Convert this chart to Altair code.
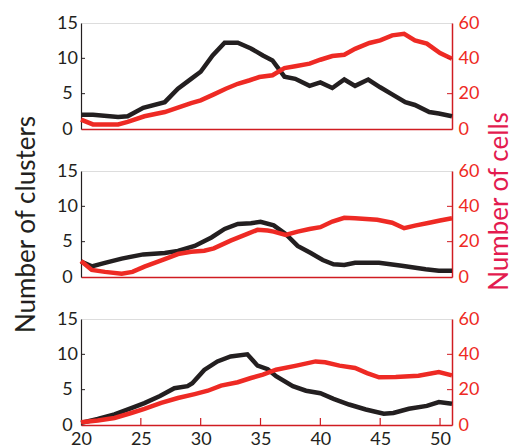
import altair as alt
import pandas as pd

# ---------------- data ----------------
ages_ticks = [25, 30, 35, 40, 45, 50]
left_ticks = [5, 10]
right_ticks = [20, 40]

p1_black_x = [20, 21, 23.1, 23.9, 25.2, 27.0, 28.1, 29.2, 30.0, 31.0, 32.0, 33.1, 34.2, 35.2, 36.0,
              37.0, 37.9, 39.1, 40.0, 41.0, 42.0, 42.9, 44.0, 45.0, 46.0, 47.1, 47.9, 49.1, 49.9, 51.0]
p1_black_y = [2.0, 2.0, 1.7, 1.8, 3.0, 3.8, 5.7, 7.1, 8.1, 10.4, 12.2, 12.2, 11.4, 10.4, 9.7,
              7.4, 7.1, 6.1, 6.6, 5.8, 7.0, 6.1, 7.0, 5.9, 4.9, 3.8, 3.4, 2.4, 2.2, 1.8]
p1_red_x = [20, 21, 23.1, 23.9, 25.3, 27.0, 28.1, 29.2, 30.0, 31.1, 32.1, 33.1, 34.1, 34.9, 36.0,
            37.0, 37.9, 39.1, 40.0, 41.0, 42.0, 42.9, 44.1, 45.0, 46.0, 47.0, 47.9, 48.9, 50.0, 51.0]
p1_red_y = [5.3, 2.6, 2.6, 4.0, 7.2, 9.6, 12.1, 14.7, 16.2, 19.6, 22.8, 25.6, 27.6, 29.4, 30.4,
            34.5, 35.5, 37.0, 39.2, 41.3, 42.0, 45.4, 48.7, 50.2, 53.0, 53.9, 50.2, 48.3, 43.0, 39.8]

p2_black_x = [20, 20.9, 22.0, 23.4, 25.2, 27.0, 28.1, 29.5, 30.9, 32.0, 33.1, 34.2, 35.0, 36.1,
              37.1, 38.1, 39.2, 40.2, 41.1, 42.0, 42.9, 44.9, 46.8, 48.8, 49.9, 51.0]
p2_black_y = [2.2, 1.5, 2.0, 2.6, 3.2, 3.4, 3.7, 4.4, 5.6, 6.8, 7.5, 7.6, 7.8, 7.3,
              6.1, 4.4, 3.4, 2.4, 1.8, 1.7, 2.0, 2.0, 1.6, 1.1, 0.9, 0.9]
p2_red_x = [20, 20.9, 22.0, 23.4, 24.3, 25.3, 27.0, 28.1, 29.2, 30.3, 31.1, 32.5, 33.9, 34.75, 35.6,
            36.1, 37.1, 38.1, 39.1, 40.0, 41.0, 42.0, 42.9, 44.75, 46.0, 47.0, 47.9, 49.1, 50.0, 51.0]
p2_red_y = [9.1, 4.0, 2.9, 1.9, 2.9, 5.9, 10.1, 13.0, 14.3, 14.9, 16.2, 20.6, 24.4, 26.7, 26.3,
            25.7, 23.8, 25.7, 27.2, 28.2, 31.4, 33.5, 33.3, 32.4, 30.7, 27.6, 29.1, 30.7, 32.0, 33.3]

p3_black_x = [20, 21.4, 22.8, 24.2, 25.3, 26.6, 27.8, 28.9, 29.3, 30.3, 31.4, 32.5, 33.9, 34.75,
              35.6, 36.3, 37.7, 38.8, 40.0, 41.1, 42.4, 43.8, 45.3, 46.1, 47.4, 48.9, 49.9, 51.0]
p3_black_y = [0.3, 0.85, 1.5, 2.4, 3.1, 4.1, 5.2, 5.5, 5.9, 7.8, 9.0, 9.7, 10.0, 8.4,
              7.9, 6.9, 5.5, 4.85, 4.5, 3.7, 2.9, 2.2, 1.6, 1.7, 2.3, 2.7, 3.25, 3.0]
p3_red_x = [20, 21.4, 22.8, 24.2, 25.3, 26.7, 28.1, 29.5, 30.6, 31.7, 33.1, 34.2, 35.2, 36.3, 38.0,
            39.6, 40.4, 41.6, 42.9, 43.9, 44.9, 46.3, 48.2, 49.9, 51.0]
p3_red_y = [1.5, 2.6, 4.0, 6.8, 9.1, 12.5, 15.3, 17.5, 19.4, 22.3, 24.2, 26.6, 28.5, 31.3, 33.6,
            36.0, 35.5, 33.6, 32.3, 29.4, 27.0, 27.2, 27.9, 30.0, 28.1]

# ---------------- styling ----------------
BLACK = "#231f20"
RED = "#ee2a24"
AXRED = "#d01c22"
TITLERED = "#e31b4f"
FONT = "Lato"
W, H = 371, 106

xscale = alt.Scale(domain=[20, 51], nice=False, zero=False)
lscale = alt.Scale(domain=[0, 15], nice=False)
rscale = alt.Scale(domain=[0, 60], nice=False)


def panel(bx, by, rx, ry, show_x, show_titles):
    xaxis = alt.Axis(values=[20, 25, 30, 35, 40, 45, 50], labels=show_x, ticks=False,
                     domainColor=AXRED, domainWidth=1.5, labelColor=BLACK, labelFontSize=18,
                     labelFont=FONT, labelPadding=5, labelFlush=False, grid=False, title=None)
    laxis = alt.Axis(values=[0, 5, 10, 15], ticks=False, domainColor=BLACK, domainWidth=1.2,
                     labelColor=BLACK, labelFontSize=18, labelFont=FONT, labelPadding=14,
                     labelAlign="center", labelFlush=False, grid=False, orient="left",
                     title="Number of clusters" if show_titles else None,
                     titleFont=FONT, titleFontSize=26, titleFontWeight="normal",
                     titleColor=BLACK, titlePadding=17)
    raxis = alt.Axis(values=[0, 20, 40, 60], ticks=False, domainColor=AXRED, domainWidth=1.5,
                     labelColor=RED, labelFontSize=18, labelFont=FONT, labelPadding=6,
                     labelFlush=False, grid=False, orient="right",
                     title="Number of cells" if show_titles else None,
                     titleFont=FONT, titleFontSize=26, titleFontWeight="normal",
                     titleColor=TITLERED, titlePadding=8, titleAngle=270, titleBaseline="top",
                     titleAlign="center", titleY=30)

    db = pd.DataFrame({"age": bx, "clusters": by})
    dr = pd.DataFrame({"age": rx, "cells": ry})
    dlt = pd.DataFrame({"clusters": left_ticks})
    drt = pd.DataFrame({"cells": right_ticks})

    bline = alt.Chart(db).mark_line(color=BLACK, strokeWidth=4.5).encode(
        x=alt.X("age:Q", scale=xscale, axis=xaxis),
        y=alt.Y("clusters:Q", scale=lscale, axis=laxis))
    lt = alt.Chart(dlt).mark_rule(color=BLACK, strokeWidth=1).encode(
        y=alt.Y("clusters:Q", scale=lscale, axis=laxis),
        x=alt.value(0), x2=alt.value(4))
    rline = alt.Chart(dr).mark_line(color=RED, strokeWidth=4.5).encode(
        x=alt.X("age:Q", scale=xscale, axis=xaxis),
        y=alt.Y("cells:Q", scale=rscale, axis=raxis))
    rt = alt.Chart(drt).mark_rule(color=AXRED, strokeWidth=1).encode(
        y=alt.Y("cells:Q", scale=rscale, axis=raxis),
        x=alt.value(W - 5), x2=alt.value(W))

    left = alt.layer(bline, lt)
    right = alt.layer(rline, rt)
    layers = [left, right]
    if show_x:
        dxt = pd.DataFrame({"age": ages_ticks})
        xt = alt.Chart(dxt).mark_rule(color=AXRED, strokeWidth=1.2).encode(
            x=alt.X("age:Q", scale=xscale, axis=xaxis),
            y=alt.value(H - 7), y2=alt.value(H))
        layers.append(xt)
    return alt.layer(*layers).resolve_scale(y="independent").properties(width=W, height=H)


p1 = panel(p1_black_x, p1_black_y, p1_red_x, p1_red_y, False, False)
p2 = panel(p2_black_x, p2_black_y, p2_red_x, p2_red_y, False, True)
p3 = panel(p3_black_x, p3_black_y, p3_red_x, p3_red_y, True, False)

chart = alt.vconcat(p1, p2, p3, spacing=42, bounds="flush").configure_view(
    stroke=BLACK, strokeWidth=1.2
).configure(background="white")

chart.save("out.html", embed_options={"renderer": "svg", "actions": False})
